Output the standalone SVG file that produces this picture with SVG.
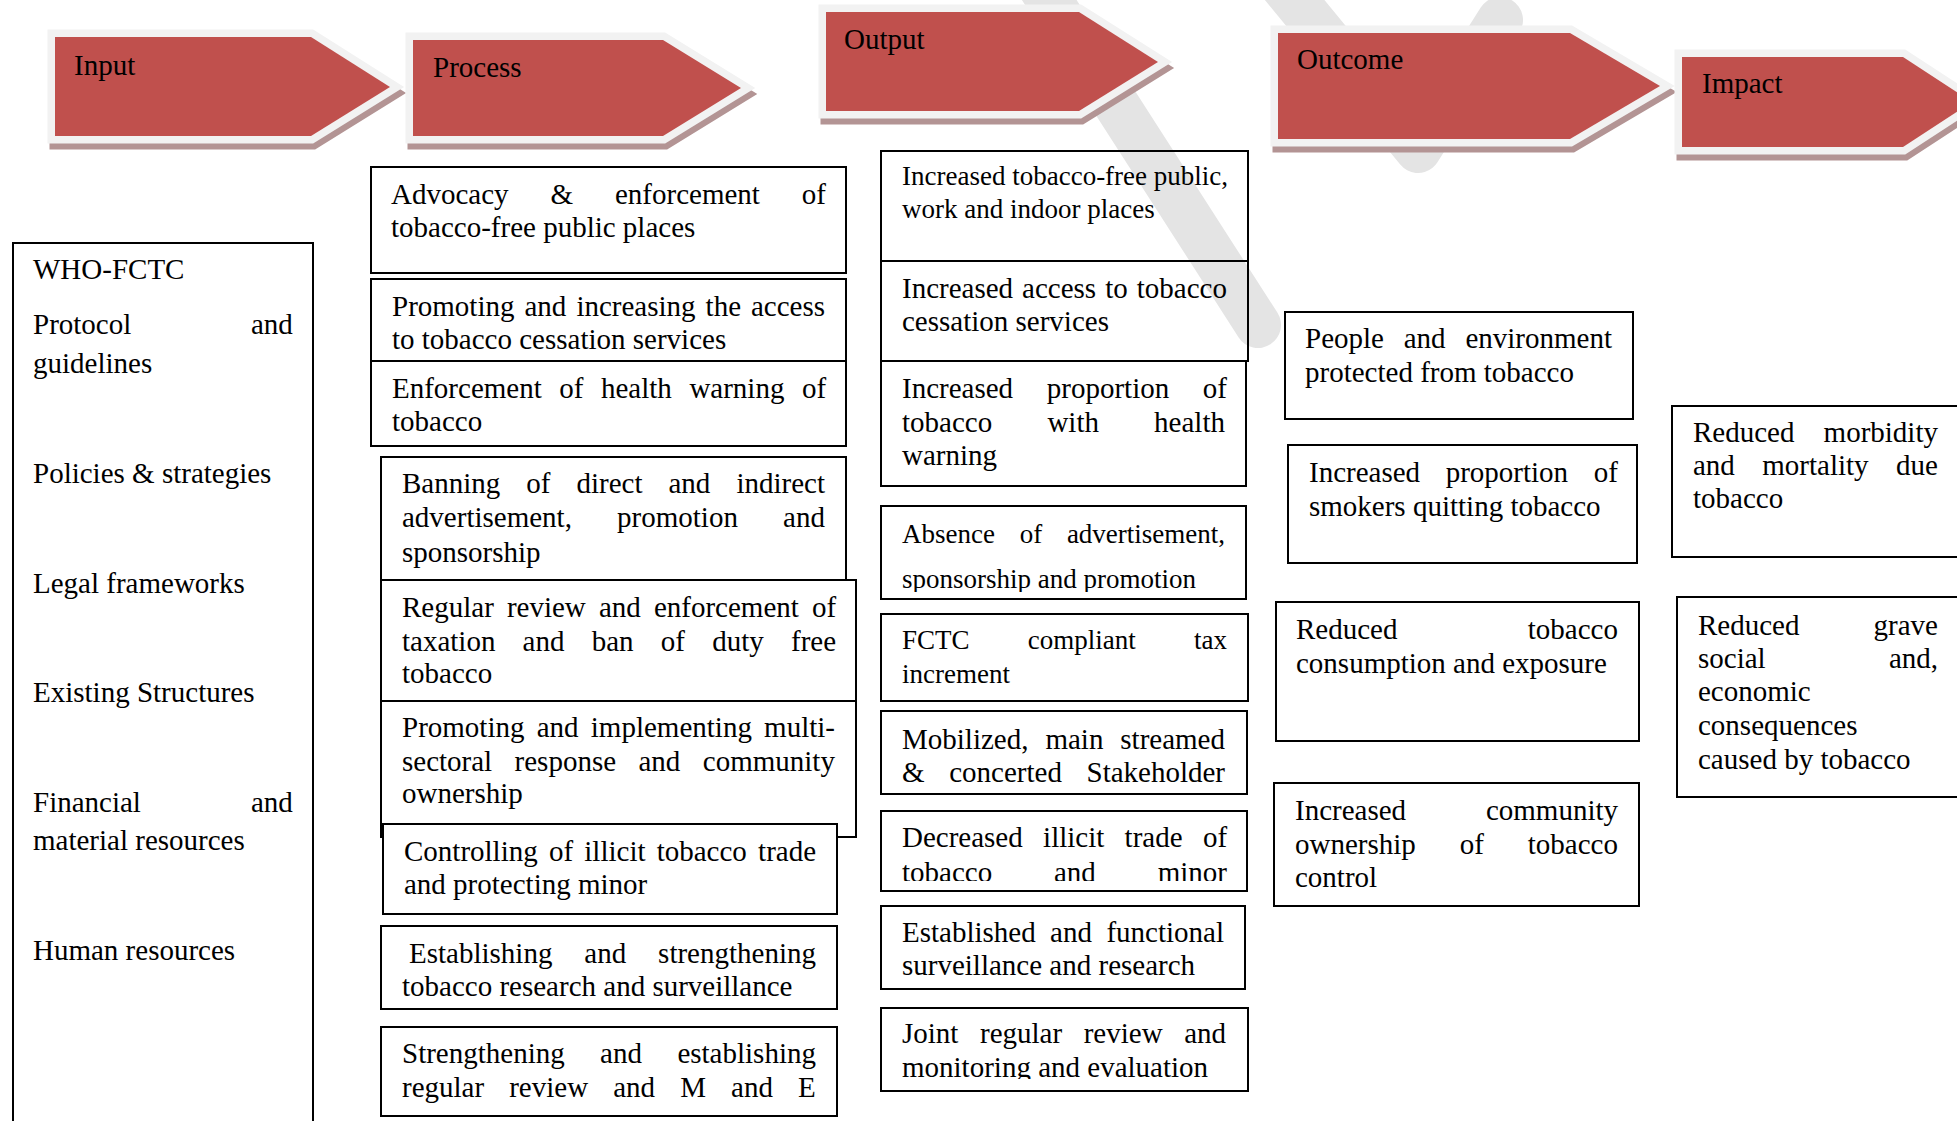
<svg xmlns="http://www.w3.org/2000/svg" width="1957" height="1121" viewBox="0 0 1957 1121">
<style>
.t{font-family:"Liberation Serif","Times New Roman",serif;font-size:29px;fill:#000}
.s{font-size:27px}
.box{fill:none;stroke:#000;stroke-width:2}
.wbox{fill:#fff;stroke:#000;stroke-width:2}
.arr{fill:#c0504d;stroke:#f2f2f2;stroke-width:15;stroke-linejoin:miter;paint-order:stroke}
.shd{fill:#b39494;stroke:#b39494;stroke-width:15;stroke-linejoin:miter}
.wm{fill:none;stroke:#e4e4e4;stroke-width:46;stroke-linecap:round;stroke-linejoin:round}
</style>
<defs>
<clipPath id="c4"><rect x="881" y="506" width="365" height="86"/></clipPath>
<clipPath id="c7"><rect x="881" y="811" width="366" height="70"/></clipPath>
<clipPath id="c9"><rect x="881" y="1008" width="367" height="71"/></clipPath>
</defs>
<rect width="1957" height="1121" fill="#fff"/>
<g id="watermark">
<path class="wm" d="M1030 -30 L1258 325"/>
<path class="wm" d="M1270 -30 L1418 150 L1500 20"/>
</g>
<g id="stage-input">
<polygon class="shd" points="57,43 313,43 392,93 313,142 57,142"/>
<polygon class="arr" points="55,37 311,37 390,87 311,136 55,136"/>
<text class="t" x="74" y="75">Input</text>
</g>
<g id="stage-process">
<polygon class="shd" points="415,46 665,46 743,94 665,142 415,142"/>
<polygon class="arr" points="413,40 663,40 741,88 663,136 413,136"/>
<text class="t" x="433" y="77">Process</text>
</g>
<g id="stage-output">
<polygon class="shd" points="828,18 1081,18 1160,68 1081,117 828,117"/>
<polygon class="arr" points="826,12 1079,12 1158,62 1079,111 826,111"/>
<text class="t" x="844" y="49">Output</text>
</g>
<g id="stage-outcome">
<polygon class="shd" points="1280,39 1572,39 1662,92 1572,145 1280,145"/>
<polygon class="arr" points="1278,33 1570,33 1660,86 1570,139 1278,139"/>
<text class="t" x="1297" y="69">Outcome</text>
</g>
<g id="stage-impact">
<polygon class="shd" points="1684,63 1905,63 1974,108 1905,153 1684,153"/>
<polygon class="arr" points="1682,57 1903,57 1972,102 1903,147 1682,147"/>
<text class="t" x="1702" y="93">Impact</text>
</g>
<g id="input-box">
<rect class="box" x="13" y="243" width="300" height="900"/>
<text class="t" x="33" y="279">WHO-FCTC</text>
<text class="t" y="334"><tspan x="33">Protocol</tspan><tspan x="251">and</tspan></text>
<text class="t" x="33" y="373">guidelines</text>
<text class="t" x="33" y="483">Policies &amp; strategies</text>
<text class="t" x="33" y="593">Legal frameworks</text>
<text class="t" x="33" y="702">Existing Structures</text>
<text class="t" y="812"><tspan x="33">Financial</tspan><tspan x="251">and</tspan></text>
<text class="t" x="33" y="850">material resources</text>
<text class="t" x="33" y="960">Human resources</text>
</g>
<g id="process-1">
<rect class="box" x="371" y="167" width="475" height="106"/>
<text class="t" y="204"><tspan x="391">Advocacy</tspan><tspan x="550.5">&amp;</tspan><tspan x="615">enforcement</tspan><tspan x="801.8">of</tspan></text>
<text class="t" x="391" y="237">tobacco-free public places</text>
</g>
<g id="process-2">
<rect class="box" x="371" y="279" width="475" height="82"/>
<text class="t" y="316"><tspan x="392">Promoting</tspan><tspan x="524.5">and</tspan><tspan x="576.4">increasing</tspan><tspan x="705.6">the</tspan><tspan x="751">access</tspan></text>
<text class="t" x="392" y="349">to tobacco cessation services</text>
</g>
<g id="process-3">
<rect class="box" x="371" y="361" width="475" height="85"/>
<text class="t" y="398"><tspan x="392">Enforcement</tspan><tspan x="559.3">of</tspan><tspan x="601">health</tspan><tspan x="689.4">warning</tspan><tspan x="801.9">of</tspan></text>
<text class="t" x="392" y="431">tobacco</text>
</g>
<g id="process-4">
<rect class="box" x="381" y="457" width="465" height="123"/>
<text class="t" y="493"><tspan x="402">Banning</tspan><tspan x="526.3">of</tspan><tspan x="576.5">direct</tspan><tspan x="668.5">and</tspan><tspan x="736.4">indirect</tspan></text>
<text class="t" y="527"><tspan x="402">advertisement,</tspan><tspan x="617.1">promotion</tspan><tspan x="783.1">and</tspan></text>
<text class="t" x="402" y="562">sponsorship</text>
</g>
<g id="process-5">
<rect class="box" x="381" y="580" width="475" height="121"/>
<text class="t" y="617"><tspan x="402">Regular</tspan><tspan x="506.9">review</tspan><tspan x="598.9">and</tspan><tspan x="653.9">enforcement</tspan><tspan x="811.9">of</tspan></text>
<text class="t" y="651"><tspan x="402">taxation</tspan><tspan x="522.6">and</tspan><tspan x="591.7">ban</tspan><tspan x="660.8">of</tspan><tspan x="712.2">duty</tspan><tspan x="791">free</tspan></text>
<text class="t" x="402" y="683">tobacco</text>
</g>
<g id="process-6">
<rect class="box" x="381" y="701" width="475" height="136"/>
<text class="t" y="737"><tspan x="402">Promoting</tspan><tspan x="536.7">and</tspan><tspan x="590.8">implementing</tspan><tspan x="764.1">multi-</tspan></text>
<text class="t" y="771"><tspan x="402">sectoral</tspan><tspan x="514.6">response</tspan><tspan x="638.5">and</tspan><tspan x="702.8">community</tspan></text>
<text class="t" x="402" y="803">ownership</text>
</g>
<g id="process-7">
<rect class="wbox" x="383" y="824" width="454" height="90"/>
<text class="t" y="861"><tspan x="404">Controlling</tspan><tspan x="548.9">of</tspan><tspan x="584.3">illicit</tspan><tspan x="656.7">tobacco</tspan><tspan x="758.1">trade</tspan></text>
<text class="t" x="404" y="894">and protecting minor</text>
</g>
<g id="process-8">
<rect class="box" x="381" y="926" width="456" height="83"/>
<text class="t" y="963"><tspan x="409">Establishing</tspan><tspan x="584.3">and</tspan><tspan x="658.1">strengthening</tspan></text>
<text class="t" x="402" y="996">tobacco research and surveillance</text>
</g>
<g id="process-9">
<rect class="box" x="381" y="1027" width="456" height="89"/>
<text class="t" y="1063"><tspan x="402">Strengthening</tspan><tspan x="600.1">and</tspan><tspan x="677.4">establishing</tspan></text>
<text class="t" y="1097"><tspan x="402">regular</tspan><tspan x="509.2">review</tspan><tspan x="613.2">and</tspan><tspan x="680.2">M</tspan><tspan x="731.1">and</tspan><tspan x="798.1">E</tspan></text>
</g>
<g id="output-1">
<rect class="box" x="881" y="151" width="367" height="110"/>
<text class="t s" x="902" y="185">Increased tobacco-free public,</text>
<text class="t s" x="902" y="218">work and indoor places</text>
</g>
<g id="output-2">
<rect class="box" x="881" y="261" width="367" height="100"/>
<text class="t" y="298"><tspan x="902">Increased</tspan><tspan x="1022.1">access</tspan><tspan x="1105.2">to</tspan><tspan x="1136.8">tobacco</tspan></text>
<text class="t" x="902" y="331">cessation services</text>
</g>
<g id="output-3">
<rect class="box" x="881" y="361" width="365" height="125"/>
<text class="t" y="398"><tspan x="902">Increased</tspan><tspan x="1046.8">proportion</tspan><tspan x="1202.8">of</tspan></text>
<text class="t" y="432"><tspan x="902">tobacco</tspan><tspan x="1047.4">with</tspan><tspan x="1154.1">health</tspan></text>
<text class="t" x="902" y="465">warning</text>
</g>
<g id="output-4">
<rect class="box" x="881" y="506" width="365" height="93"/>
<g clip-path="url(#c4)">
<text class="t s" y="543"><tspan x="902">Absence</tspan><tspan x="1019.7">of</tspan><tspan x="1066.9">advertisement,</tspan></text>
<text class="t s" x="902" y="588">sponsorship and promotion</text>
</g>
</g>
<g id="output-5">
<rect class="box" x="881" y="614" width="367" height="87"/>
<text class="t s" y="649"><tspan x="902">FCTC</tspan><tspan x="1027.8">compliant</tspan><tspan x="1194.1">tax</tspan></text>
<text class="t s" x="902" y="683">increment</text>
</g>
<g id="output-6">
<rect class="box" x="881" y="711" width="366" height="83"/>
<text class="t" y="749"><tspan x="902">Mobilized,</tspan><tspan x="1045.4">main</tspan><tspan x="1120.3">streamed</tspan></text>
<text class="t" y="782"><tspan x="902">&amp;</tspan><tspan x="949.2">concerted</tspan><tspan x="1086.5">Stakeholder</tspan></text>
</g>
<g id="output-7">
<rect class="box" x="881" y="811" width="366" height="80"/>
<g clip-path="url(#c7)">
<text class="t" y="847"><tspan x="902">Decreased</tspan><tspan x="1043.1">illicit</tspan><tspan x="1124.6">trade</tspan><tspan x="1202.9">of</tspan></text>
<text class="t" y="882"><tspan x="902">tobacco</tspan><tspan x="1054">and</tspan><tspan x="1157.7">minor</tspan></text>
</g>
</g>
<g id="output-8">
<rect class="box" x="881" y="906" width="364" height="83"/>
<text class="t" y="942"><tspan x="902">Established</tspan><tspan x="1050.1">and</tspan><tspan x="1106.4">functional</tspan></text>
<text class="t" x="902" y="975">surveillance and research</text>
</g>
<g id="output-9">
<rect class="box" x="881" y="1008" width="367" height="83"/>
<g clip-path="url(#c9)">
<text class="t" y="1043"><tspan x="902">Joint</tspan><tspan x="980">regular</tspan><tspan x="1083.7">review</tspan><tspan x="1184.2">and</tspan></text>
<text class="t" x="902" y="1077">monitoring and evaluation</text>
</g>
</g>
<g id="outcome-1">
<rect class="box" x="1285" y="312" width="348" height="107"/>
<text class="t" y="348"><tspan x="1305">People</tspan><tspan x="1403.7">and</tspan><tspan x="1465.4">environment</tspan></text>
<text class="t" x="1305" y="382">protected from tobacco</text>
</g>
<g id="outcome-2">
<rect class="box" x="1288" y="445" width="349" height="118"/>
<text class="t" y="482"><tspan x="1309">Increased</tspan><tspan x="1445.7">proportion</tspan><tspan x="1593.7">of</tspan></text>
<text class="t" x="1309" y="516">smokers quitting tobacco</text>
</g>
<g id="outcome-3">
<rect class="box" x="1276" y="602" width="363" height="139"/>
<text class="t" y="639"><tspan x="1296">Reduced</tspan><tspan x="1527.8">tobacco</tspan></text>
<text class="t" x="1296" y="673">consumption and exposure</text>
</g>
<g id="outcome-4">
<rect class="box" x="1274" y="783" width="365" height="123"/>
<text class="t" y="820"><tspan x="1295">Increased</tspan><tspan x="1485.9">community</tspan></text>
<text class="t" y="854"><tspan x="1295">ownership</tspan><tspan x="1459.7">of</tspan><tspan x="1527.8">tobacco</tspan></text>
<text class="t" x="1295" y="887">control</text>
</g>
<g id="impact-1">
<rect class="box" x="1672" y="406" width="300" height="151"/>
<text class="t" y="442"><tspan x="1693">Reduced</tspan><tspan x="1823.6">morbidity</tspan></text>
<text class="t" y="475"><tspan x="1693">and</tspan><tspan x="1762.3">mortality</tspan><tspan x="1896">due</tspan></text>
<text class="t" x="1693" y="508">tobacco</text>
</g>
<g id="impact-2">
<rect class="box" x="1677" y="597" width="300" height="200"/>
<text class="t" y="635"><tspan x="1698">Reduced</tspan><tspan x="1873.6">grave</tspan></text>
<text class="t" y="668"><tspan x="1698">social</tspan><tspan x="1889">and,</tspan></text>
<text class="t" x="1698" y="701">economic</text>
<text class="t" x="1698" y="735">consequences</text>
<text class="t" x="1698" y="769">caused by tobacco</text>
</g>
<g id="connectors"></g>
</svg>
